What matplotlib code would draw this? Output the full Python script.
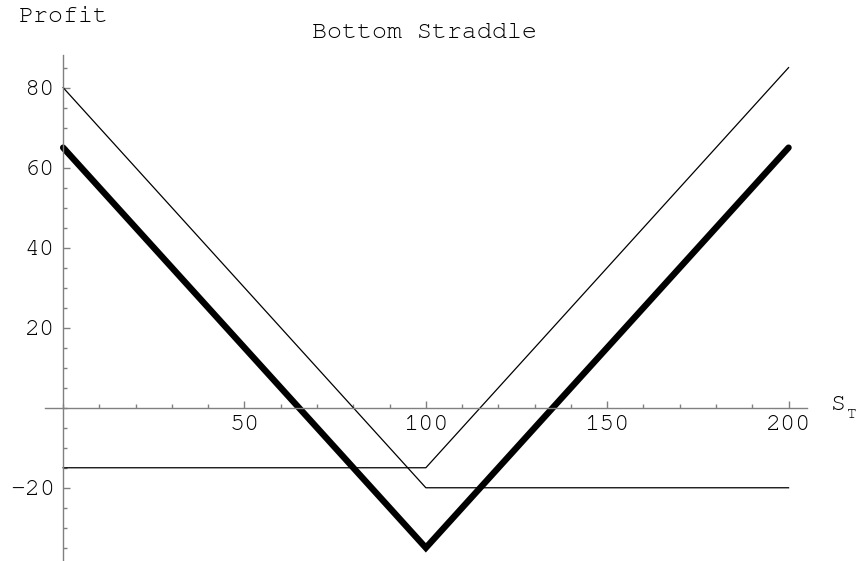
import matplotlib
matplotlib.use('Agg')
import matplotlib.pyplot as plt
from matplotlib.ticker import MultipleLocator, FixedLocator

# Payoff data (stock price at expiry vs profit)
s_t = [0, 100, 200]
long_call = [-15, -15, 85]
long_put = [80, -20, -20]
straddle = [65, -35, 65]

x_ticks = [50, 100, 150, 200]
y_ticks = [-20, 20, 40, 60, 80]

plt.rcParams['font.family'] = ['Nimbus Mono PS', 'FreeMono', 'Courier New', 'Liberation Mono']
plt.rcParams['axes.unicode_minus'] = False
fs_tick = 18
fs_text = 18
axis_color = '#808080'

fig = plt.figure(figsize=(8.61, 5.61), dpi=100)
ax = fig.add_axes([45 / 861, 0.0, 761.7 / 861, 506.2 / 561])

ax.plot(s_t, long_call, color='black', linewidth=0.9)
ax.plot(s_t, long_put, color='black', linewidth=0.9)
ax.plot(s_t, straddle, color='black', linewidth=4.6, solid_capstyle='round', solid_joinstyle='miter')

ax.set_xlim(-5, 205)
ax.set_ylim(-38.3, 88.2)

for side in ['top', 'right']:
    ax.spines[side].set_visible(False)
for side in ['left', 'bottom']:
    ax.spines[side].set_position(('data', 0))
    ax.spines[side].set_color(axis_color)
    ax.spines[side].set_linewidth(1.0)

ax.xaxis.set_major_locator(FixedLocator(x_ticks))
ax.xaxis.set_minor_locator(MultipleLocator(10))
ax.yaxis.set_major_locator(FixedLocator(y_ticks))
ax.yaxis.set_minor_locator(MultipleLocator(5))

ax.tick_params(which='both', direction='in', color=axis_color, width=1.0)
ax.tick_params(which='major', length=5)
ax.tick_params(which='minor', length=3)
ax.tick_params(axis='x', which='major', pad=5, labelsize=fs_tick)
ax.tick_params(axis='y', which='major', pad=6, labelsize=fs_tick)

fig.text(19 / 861, 1 - 17 / 561, 'Profit', fontsize=fs_text, ha='left', va='center')
fig.text(424 / 861, 1 - 33 / 561, 'Bottom Straddle', fontsize=fs_text, ha='center', va='center')
fig.text(831 / 861, 1 - 405 / 561, 'S', fontsize=fs_text, ha='left', va='center')
fig.text(847 / 861, 1 - 414 / 561, 'T', fontsize=fs_text * 0.65, ha='left', va='center')

fig.savefig('out.png', dpi=100)
